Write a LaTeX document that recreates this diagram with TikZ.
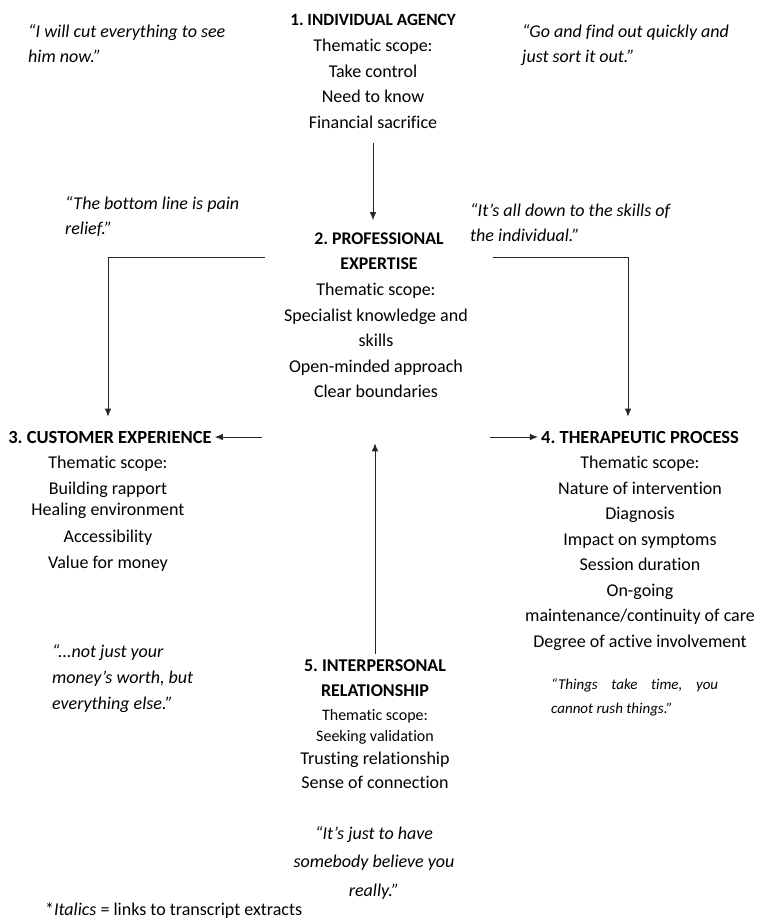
\documentclass[tikz,border=0pt]{standalone}
\usepackage{fontspec}
\setmainfont{Carlito}[Ligatures={NoCommon}]
\usetikzlibrary{arrows.meta,positioning}
\frenchspacing

\begin{document}
\begin{tikzpicture}[x=1pt,y=-1pt,
  head/.style={align=center,inner sep=0pt,font=\fontsize{17.2}{25.5}\selectfont\bfseries},
  bighead/.style={head,font=\fontsize{18.5}{25.5}\selectfont\bfseries},
  theme/.style={align=center,inner sep=0pt,anchor=north,font=\fontsize{18}{25.5}\selectfont},
  quote/.style={align=left,inner sep=0pt,anchor=north west,font=\fontsize{18}{25.5}\selectfont\itshape},
  link/.style={-{Latex[length=8pt,width=6.5pt]},line width=0.8pt,color=black!85}]
  \useasboundingbox (0,0) rectangle (760,920);

  % themes
  \node[head] (h1) at (373,20) {1. INDIVIDUAL AGENCY};
  \node[theme] (t1) at (373,39) {Thematic scope:\\Take control\\Need to know\\Financial sacrifice};

  \node[head,minimum width=228pt,font=\fontsize{17.8}{25.5}\selectfont\bfseries] (h2) at (379,251) {2. PROFESSIONAL\\EXPERTISE};
  \node[theme,minimum width=228pt] (t2) at (376,283) {Thematic scope:\\Specialist knowledge and\\skills\\Open-minded approach\\Clear boundaries};

  \node[bighead] (h3) at (110,437) {3. CUSTOMER EXPERIENCE};
  \node[theme] (t3) at (108,456) {Thematic scope:\\Building rapport\\[-4pt]Healing environment\\[1pt]Accessibility\\[1pt]Value for money};

  \node[bighead] (h4) at (640,437) {4. THERAPEUTIC PROCESS};
  \node[theme] (t4) at (640,456) {Thematic scope:\\Nature of intervention\\Diagnosis\\Impact on symptoms\\Session duration\\On-going\\maintenance/continuity of care\\Degree of active involvement};

  \node[head,font=\fontsize{18}{25.5}\selectfont\bfseries] (h5) at (375,678) {5. INTERPERSONAL\\RELATIONSHIP};
  \node[theme,font=\fontsize{16}{21}\selectfont] (t5) at (375,709) {Thematic scope:\\Seeking validation\\[2pt]{\fontsize{18}{23}\selectfont Trusting relationship}\\[3pt]{\fontsize{18}{23}\selectfont Sense of connection}};

  % quotes
  \node[quote] (q1) at (28,24) {“I will cut everything to see\\him now.”};
  \node[quote] (q2) at (522,24) {“Go and find out quickly and\\just sort it out.”};
  \node[quote] (q3) at (65,196) {“The bottom line is pain\\relief.”};
  \node[quote] (q4) at (470,203) {“It’s all down to the skills of\\the individual.”};
  \node[quote,font=\fontsize{18}{26}\selectfont\itshape] (q5) at (52,644) {“...not just your\\money’s worth, but\\everything else.”};
  \node[quote,align=justify,text width=167pt,font=\fontsize{15}{24}\selectfont\itshape] (q6) at (551,678) {“Things take time, you \mbox{cannot} rush things.”};
  \node[quote,anchor=north,align=center,font=\fontsize{18}{28.5}\selectfont\itshape] (q7) at (374,826) {“It’s just to have\\somebody believe you\\really.”};
  \node[anchor=west,inner sep=0pt,font=\fontsize{18}{22}\selectfont] (note) at (45,911) {*\textit{Italics} = links to transcript extracts};

  % links
  \draw[link,shorten <=14pt,shorten >=12pt] (t1) -- (t1 |- h2.north);
  \draw[link,shorten >=14pt] ([yshift=-6pt]h2.west) -| ([xshift=-2pt]h3.north);
  \draw[link,shorten >=14pt] ([yshift=-6pt]h2.east) -| ([xshift=-12pt]h4.north);
  \draw[link,shorten >=3pt] (t2.west |- h3) -- (h3.east);
  \draw[link,shorten >=3pt] (t2.east |- h4) -- (h4.west);
  \draw[link,shorten <=5pt] (h5) -- (h5 |- h3.south);
\end{tikzpicture}
\end{document}
